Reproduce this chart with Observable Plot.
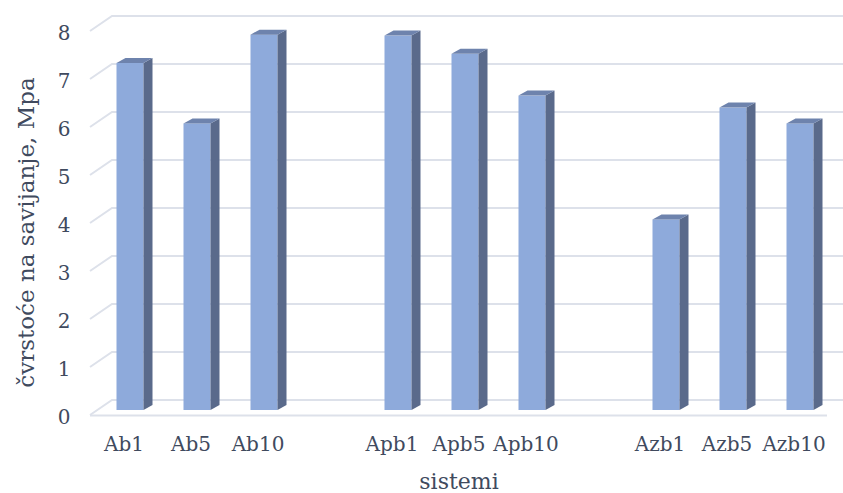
<!DOCTYPE html>
<html>
<head>
<meta charset="utf-8">
<script src="https://cdn.jsdelivr.net/npm/d3@7"></script>
<script src="https://cdn.jsdelivr.net/npm/@observablehq/plot@0.6"></script>
<style>
  html, body { margin: 0; padding: 0; background: #ffffff; }
  #chart { width: 843px; height: 493px; overflow: hidden; }
</style>
</head>
<body>
<div id="chart"></div>
<script>
// ---- data ----
const categories = ["Ab1", "Ab5", "Ab10", "Apb1", "Apb5", "Apb10", "Azb1", "Azb5", "Azb10"];
const values = [7.23, 5.97, 7.82, 7.8, 7.42, 6.55, 3.97, 6.3, 5.97];
const slots = ["Ab1", "Ab5", "Ab10", " ", "Apb1", "Apb5", "Apb10", "  ", "Azb1", "Azb5", "Azb10"];
const yTicks = [0, 1, 2, 3, 4, 5, 6, 7, 8];
const yLabel = "čvrstoće na savijanje, Mpa";
const xLabel = "sistemi";

const data = categories.map((c, i) => ({cat: c, val: values[i]}));

// ---- style ----
const FRONT = "#8eaadb";
const SIDE = "#5a6a8b";
const TOP = "#6e83ad";
const GRID = "#dde1ea";
const TEXT = "#404a5e";
const FONT = "'DejaVu Serif', 'Liberation Serif', serif";
const W = 843, H = 493;
const BAR_DX = 6.5, BAR_DY = -5;   // bar plane offset from floor front
const DEP_X = 9, DEP_Y = -5;       // bar depth
const WALL_X = 22, WALL_Y = -15;   // back wall offset

const svgNS = "http://www.w3.org/2000/svg";
function poly(pts, fill) {
  const p = document.createElementNS(svgNS, "polygon");
  p.setAttribute("points", pts.map(q => q.join(",")).join(" "));
  p.setAttribute("fill", fill);
  return p;
}

const chart = Plot.plot({
  width: W,
  height: H,
  marginLeft: 90,
  marginRight: 16,
  marginTop: 31,
  marginBottom: 78,
  style: {fontFamily: FONT, color: TEXT, background: "#ffffff", overflow: "visible"},
  x: {domain: slots, paddingInner: 0.6, paddingOuter: 0.3, label: null},
  y: {domain: [0, 8], label: null},
  marks: [
    // back-wall gridlines with left-wall diagonal
    Plot.ruleY(yTicks, {
      stroke: GRID,
      strokeWidth: 2,
      render(index, scales, vals, dims) {
        const g = document.createElementNS(svgNS, "g");
        for (const i of index) {
          const y = scales.y(yTicks[i]);
          const x0 = dims.marginLeft;
          const p = document.createElementNS(svgNS, "path");
          p.setAttribute("d", `M${x0},${y}L${x0 + WALL_X},${y + WALL_Y}L${dims.width},${y + WALL_Y}`);
          p.setAttribute("fill", "none");
          p.setAttribute("stroke", GRID);
          p.setAttribute("stroke-width", 2);
          g.appendChild(p);
        }
        return g;
      }
    }),
    // floor front edge
    Plot.ruleY([0], {stroke: GRID, strokeWidth: 2}),
    // bars: front faces by Plot, side & top faces added from the same scales
    // (the group already carries the dx/dy translation)
    Plot.barY(data, {
      x: "cat",
      y: "val",
      fill: FRONT,
      dx: BAR_DX,
      dy: BAR_DY,
      render(index, scales, vals, dims, ctx, next) {
        const node = next(index, scales, vals, dims, ctx);
        const bw = scales.x.bandwidth ? scales.x.bandwidth() : 27;
        for (const i of index) {
          const d = data[i];
          const x0 = scales.x(d.cat), x1 = x0 + bw;
          const yt = scales.y(d.val), yb = scales.y(0);
          node.appendChild(poly([[x1, yt], [x1 + DEP_X, yt + DEP_Y], [x1 + DEP_X, yb + DEP_Y], [x1, yb]], SIDE));
          node.appendChild(poly([[x0, yt], [x1, yt], [x1 + DEP_X, yt + DEP_Y], [x0 + DEP_X, yt + DEP_Y]], TOP));
        }
        return node;
      }
    }),
    Plot.axisY(yTicks, {tickSize: 0, tickPadding: 20, dy: 2, fontSize: 20, fill: TEXT, label: null}),
    Plot.axisX({tickSize: 0, tickPadding: 21, fontSize: 20, fill: TEXT, label: null}),
    Plot.text([yLabel], {frameAnchor: "left", textAnchor: "middle", dx: -64, dy: 9, rotate: -90, fontSize: 23, fill: TEXT, text: d => d}),
    Plot.text([xLabel], {frameAnchor: "bottom", dy: 73, fontSize: 22, fill: TEXT, text: d => d})
  ]
});

document.getElementById("chart").appendChild(chart);
</script>
</body>
</html>
